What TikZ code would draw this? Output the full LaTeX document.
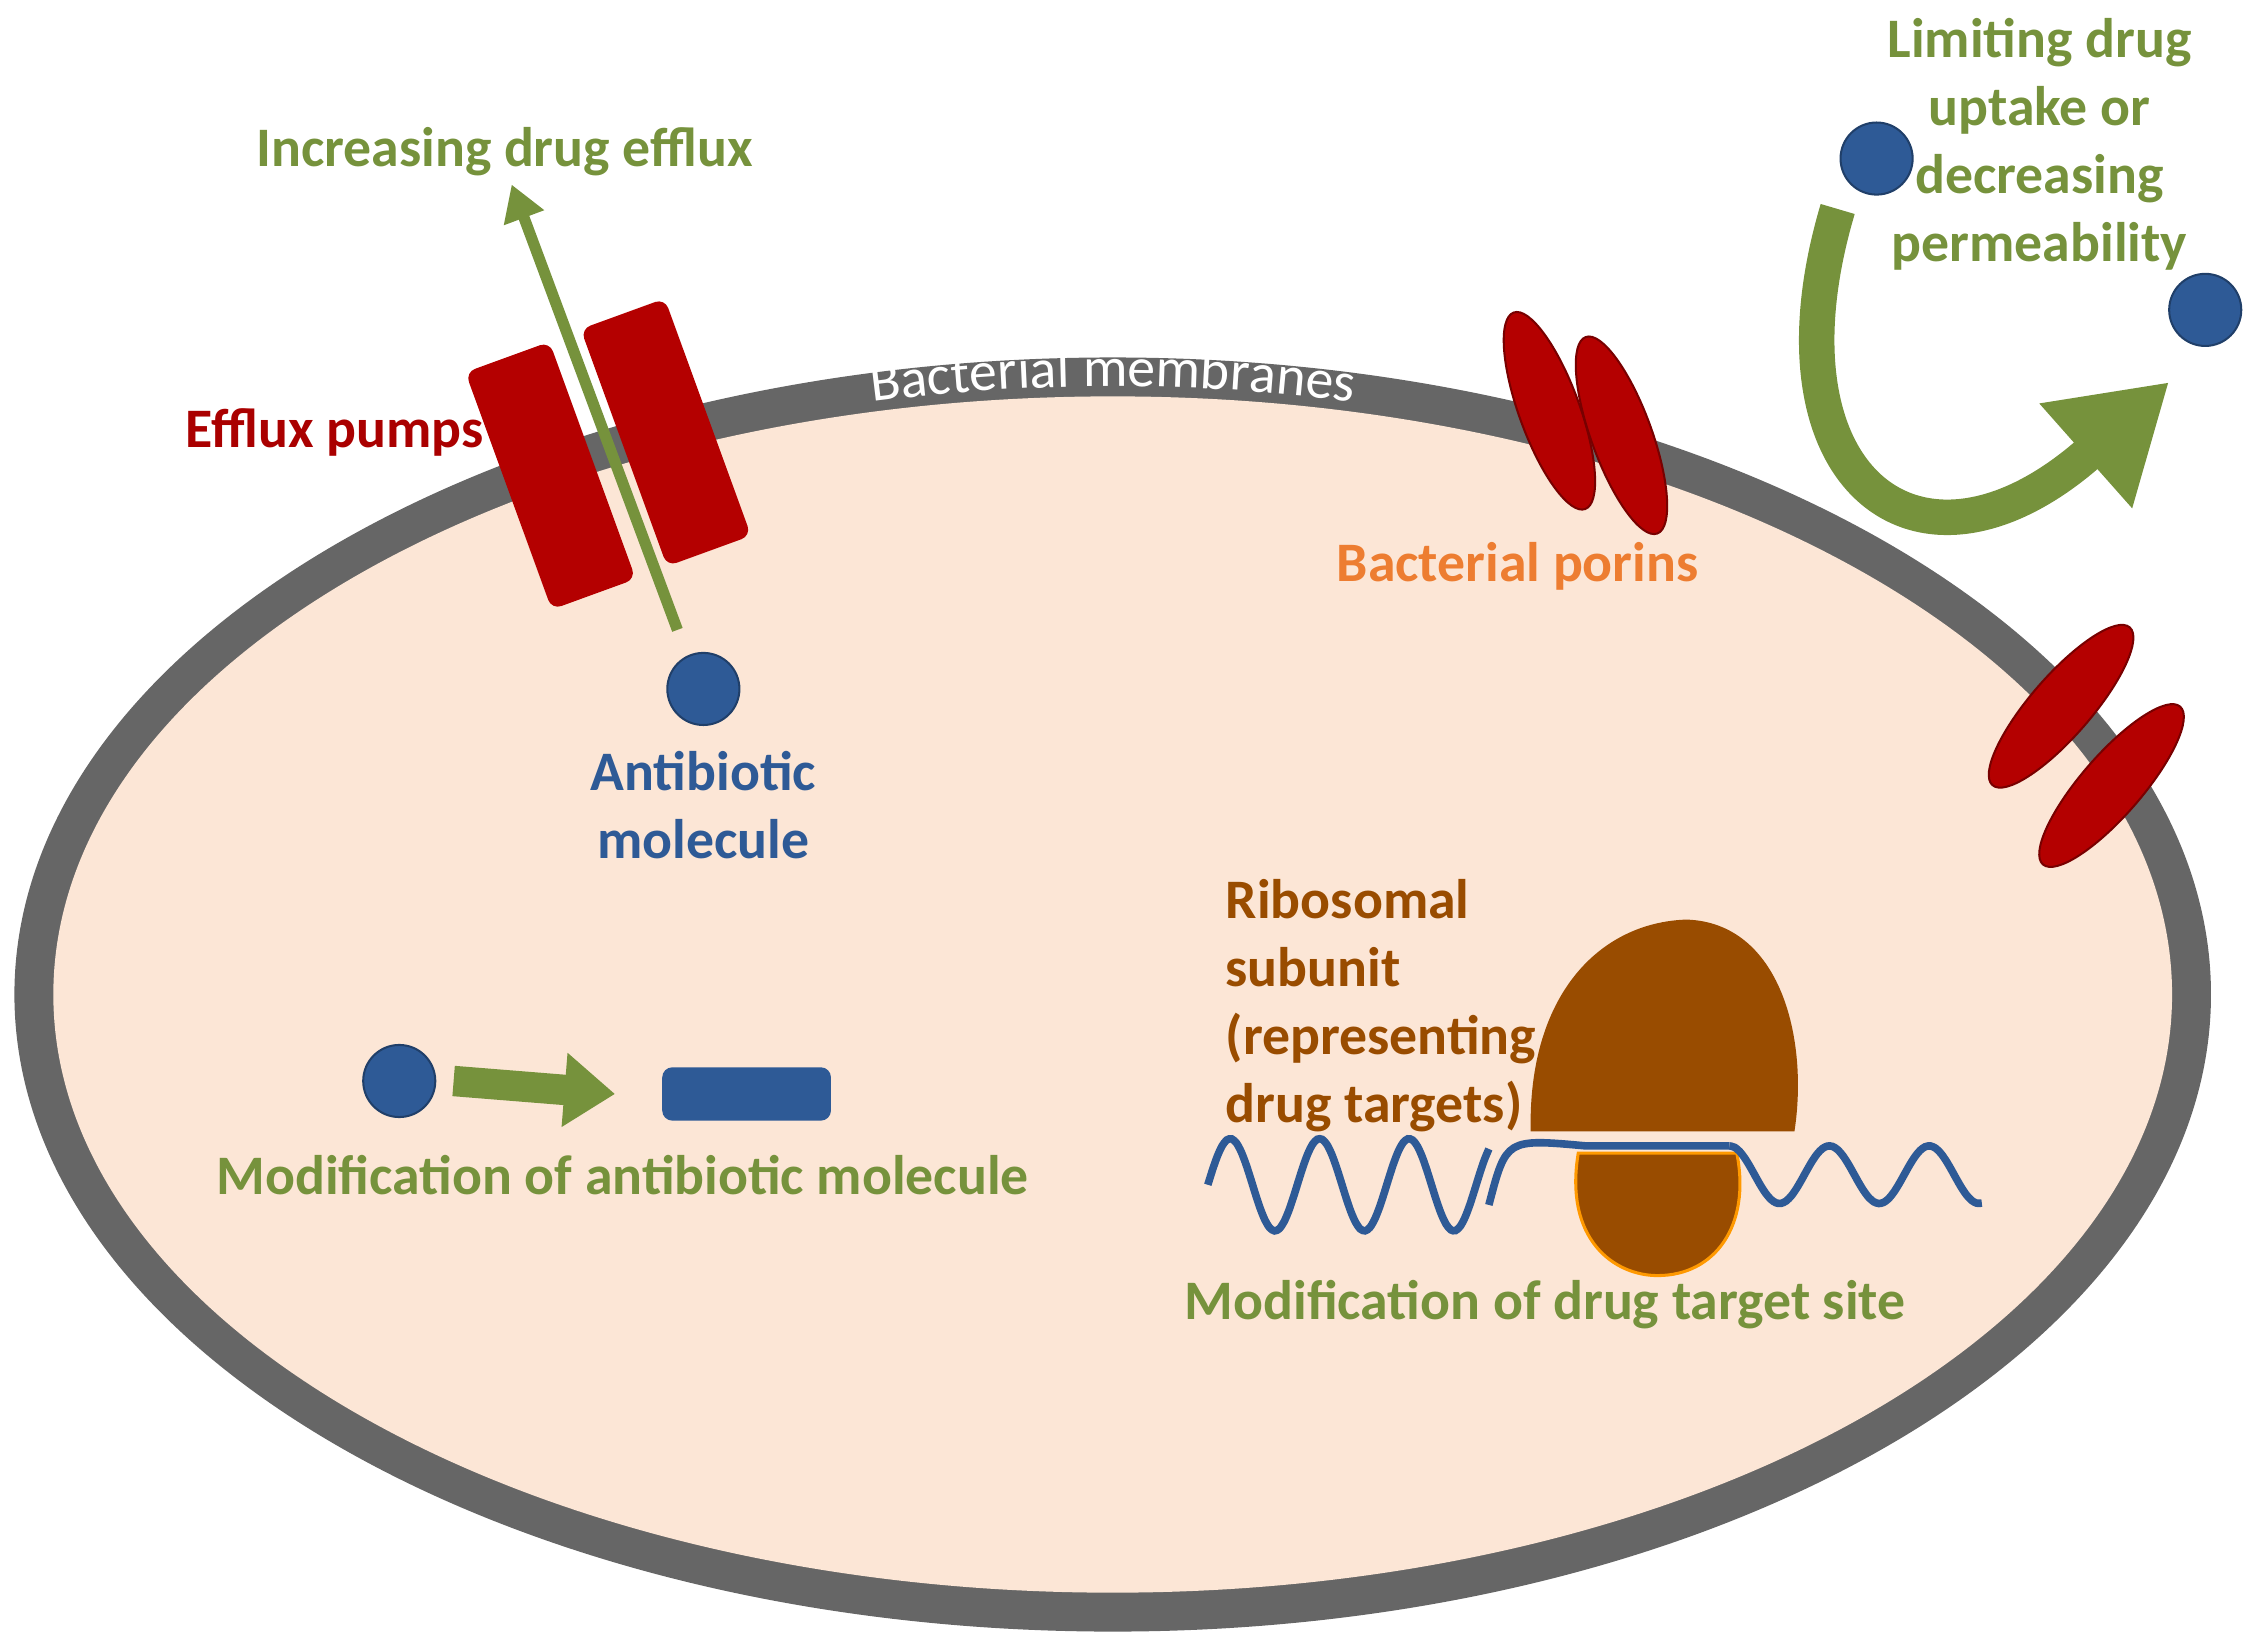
\documentclass[tikz,border=0pt]{standalone}
\usepackage{fontspec}
\setmainfont{Carlito}
\usetikzlibrary{shapes,positioning,arrows.meta,decorations.text}
\definecolor{cellfill}{RGB}{252,230,214}
\definecolor{wallgray}{RGB}{102,102,102}
\definecolor{leafgreen}{RGB}{118,146,60}
\definecolor{drugblue}{RGB}{46,90,150}
\definecolor{pumpred}{RGB}{200,0,0}
\definecolor{porinorange}{RGB}{237,125,49}
\definecolor{ribobrown}{RGB}{153,76,0}
\tikzset{
  lbl/.style={font=\bfseries\fontsize{11}{13.4}\selectfont, align=center},
  drug/.style={circle, fill=drugblue, draw=drugblue!70!black, minimum size=0.5cm, inner sep=0pt},
  pump/.style={rounded corners=2pt, fill=pumpred!90!black, minimum width=0.62cm, minimum height=1.75cm, inner sep=0pt},
  porin/.style={ellipse, fill=pumpred!90!black, draw=pumpred!60!black, minimum width=1.45cm, minimum height=0.42cm, inner sep=0pt},
}
\begin{document}
\begin{tikzpicture}[x=0.01cm,y=-0.01cm]
\useasboundingbox (0,0) rectangle (1568,1136);
% cell
\fill[wallgray] (772,690) ellipse [x radius=762, y radius=442];
\fill[cellfill] (772,690) ellipse [x radius=735, y radius=415];
\path[decorate, decoration={text along path, text align=center,
  text={|\color{white}\fontsize{11}{12}\selectfont|Bacterial membranes}}]
  (772,690) ++(240:743 and 422) arc[start angle=240, end angle=300, x radius=743, y radius=422];
% efflux pumps
\node[pump, rotate=20] (pumpL) at (382,330) {};
\node[pump, rotate=20] (pumpR) at (462,300) {};
\node[drug] (mol) at (488,478) {};
\coordinate (effTop) at (355,128);
\coordinate (effBot) at (470,437);
\draw[leafgreen, line width=2.2pt, -{Triangle[length=7pt,width=8pt]}] (effBot) -- (effTop);
\node[lbl, text=leafgreen] (efflux) at (350,105) {Increasing drug efflux};
\node[lbl, text=pumpred!85!black] (pumps) at (232,300) {Efflux pumps};
\node[lbl, text=drugblue, below=0.05cm of mol] (molL) {Antibiotic\\molecule};
% porins
\node[porin, rotate=110] (por1) at (1075,285) {};
\node[porin, rotate=110] (por2) at (1125,302) {};
\node[porin, rotate=49] (por3) at (1430,490) {};
\node[porin, rotate=49] (por4) at (1465,545) {};
\node[lbl, text=porinorange] (porins) at (1053,393) {Bacterial porins};
% uptake
\node[drug] (outA) at (1302,110) {};
\node[drug] (outB) at (1530,215) {};
\draw[leafgreen, line width=7pt, -{Triangle[length=22pt,width=26pt]}]
  (1275,145) .. controls (1220,330) and (1330,420) .. (1505,265);
\node[lbl, text=leafgreen] (limit) at (1415,100) {Limiting drug\\uptake or\\decreasing\\permeability};
% modification of molecule
\node[drug] (modA) at (277,750) {};
\node[rounded corners=2pt, fill=drugblue, minimum width=1.17cm, minimum height=0.37cm] (modB) at (518,759) {};
\draw[leafgreen, line width=6pt, -{Triangle[length=10pt,width=14pt]}] ([xshift=0.12cm]modA.east) -- ([xshift=-0.32cm]modB.west);
\node[lbl, text=leafgreen] (modL) at (432,815) {Modification of antibiotic molecule};
% ribosome
\fill[ribobrown] (1062,785) .. controls (1060,690) and (1110,640) .. (1170,638)
  .. controls (1235,640) and (1255,720) .. (1245,785) -- cycle;
\fill[ribobrown, draw=orange!80!yellow, line width=0.6pt] (1095,800) .. controls (1085,860) and (1120,885) .. (1150,885)
  .. controls (1190,885) and (1215,850) .. (1205,800) -- cycle;
\draw[drugblue, line width=1.5pt] plot[smooth, domain=0:195, samples=60] ({838+\x},{822-32*sin(\x*5.8)});
\draw[drugblue, line width=1.5pt] (1033,836) .. controls (1045,790) .. (1100,795) -- (1200,795);
\draw[drugblue, line width=1.5pt] plot[smooth, domain=0:175, samples=50] ({1200+\x},{815-20*sin(90+\x*5.2)});
\node[lbl, text=ribobrown, align=left, anchor=north west] (ribo) at (838,598) {Ribosomal\\subunit\\(representing\\drug targets)};
\node[lbl, text=leafgreen] (targL) at (1072,905) {Modification of drug target site};
\end{tikzpicture}
\end{document}
